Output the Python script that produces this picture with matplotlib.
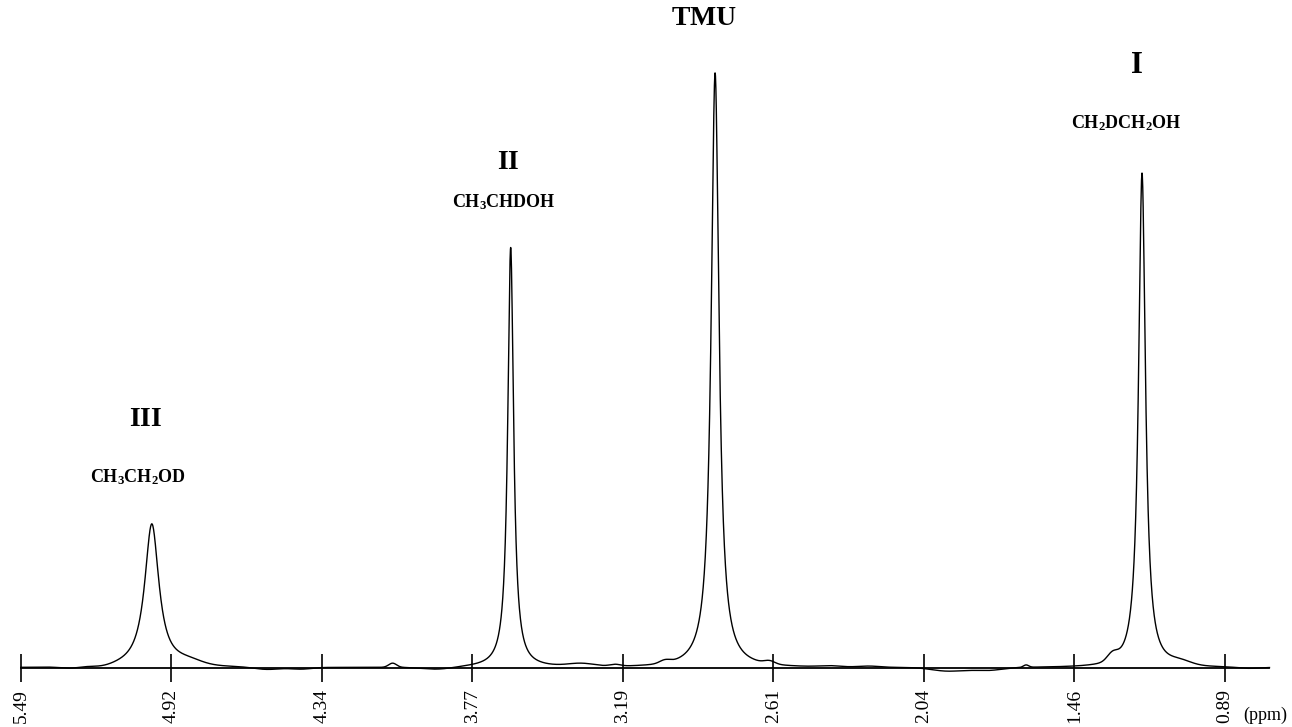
import numpy as np
import matplotlib
matplotlib.use("Agg")
import matplotlib.pyplot as plt

plt.rcParams['mathtext.fontset'] = 'custom'
plt.rcParams['mathtext.rm'] = 'Liberation Serif'
plt.rcParams['mathtext.bf'] = 'Liberation Serif:bold'
plt.rcParams['font.family'] = ['Liberation Serif', 'DejaVu Serif']

# ---- data ----
peak_ppm = [4.990, 3.619, 2.838, 1.207]
peak_height = [0.242, 0.706, 1.000, 0.832]
peak_fwhm = [0.066, 0.027, 0.036, 0.032]

# small baseline features / shoulders (ppm, amplitude, width)
feat_ppm = [5.30, 5.18, 4.85, 4.55, 4.42, 4.07, 3.90, 3.35, 3.22, 3.03,
            2.63, 2.40, 2.25, 1.95, 1.80, 1.65, 1.32, 1.06, 0.80]
feat_amp = [-0.003, -0.003, 0.007, -0.004, -0.003, 0.007, -0.004, 0.005, 0.003, 0.005,
            0.005, 0.002, 0.002, -0.006, -0.005, 0.004, 0.012, 0.006, -0.002]
feat_wid = [0.04, 0.04, 0.05, 0.05, 0.04, 0.015, 0.06, 0.05, 0.02, 0.02,
            0.02, 0.04, 0.04, 0.06, 0.06, 0.01, 0.02, 0.04, 0.04]

tick_pos = [5.49, 4.915, 4.34, 3.765, 3.19, 2.615, 2.04, 1.465, 0.89]
tick_lab = ["5.49", "4.92", "4.34", "3.77", "3.19", "2.61", "2.04", "1.46", "0.89"]

labels = [r"$\mathbf{III}$", r"$\mathbf{CH_3CH_2OD}$",
          r"$\mathbf{II}$", r"$\mathbf{CH_3CHDOH}$",
          r"$\mathbf{TMU}$",
          r"$\mathbf{I}$", r"$\mathbf{CH_2DCH_2OH}$"]
label_x = [5.012, 5.043, 3.629, 3.644, 2.880, 1.230, 1.268]
label_y = [0.417, 0.321, 0.849, 0.783, 1.092, 1.013, 0.916]
label_size = [20, 13, 20, 13, 20, 22, 13]

x_start, x_end = 5.49, 0.72

# ---- build spectrum ----
x = np.linspace(x_start, x_end, 6000)
y = np.zeros_like(x)
for c, h, w in zip(peak_ppm, peak_height, peak_fwhm):
    g = w / 2
    y += h * g**2 / ((x - c)**2 + g**2)
for c, a, w in zip(feat_ppm, feat_amp, feat_wid):
    y += a * np.exp(-0.5 * ((x - c) / w)**2)

fig = plt.figure(figsize=(12.92, 7.27), dpi=100)
ax = fig.add_axes([0, 0, 1, 1])
ax.plot(x, y, color='black', lw=1.0)

ax.set_xlim(5.570, 0.634)
ax.set_ylim(-0.0992, 1.1227)

for s in ['top', 'right', 'left']:
    ax.spines[s].set_visible(False)
ax.spines['bottom'].set_position(('data', 0))
ax.spines['bottom'].set_bounds(x_start, x_end)
ax.spines['bottom'].set_linewidth(1.3)
ax.set_yticks([])
ax.set_xticks(tick_pos)
ax.set_xticklabels(tick_lab, rotation=90, fontsize=14)
ax.tick_params(axis='x', direction='inout', length=20, width=1.2, pad=5)

for t, lx, ly, fs in zip(labels, label_x, label_y, label_size):
    ax.text(lx, ly, t, ha='center', va='center', fontsize=fs)

ax.text(0.735, -0.08, "(ppm)", ha='center', va='center', fontsize=13)

fig.savefig("out.png", dpi=100)
